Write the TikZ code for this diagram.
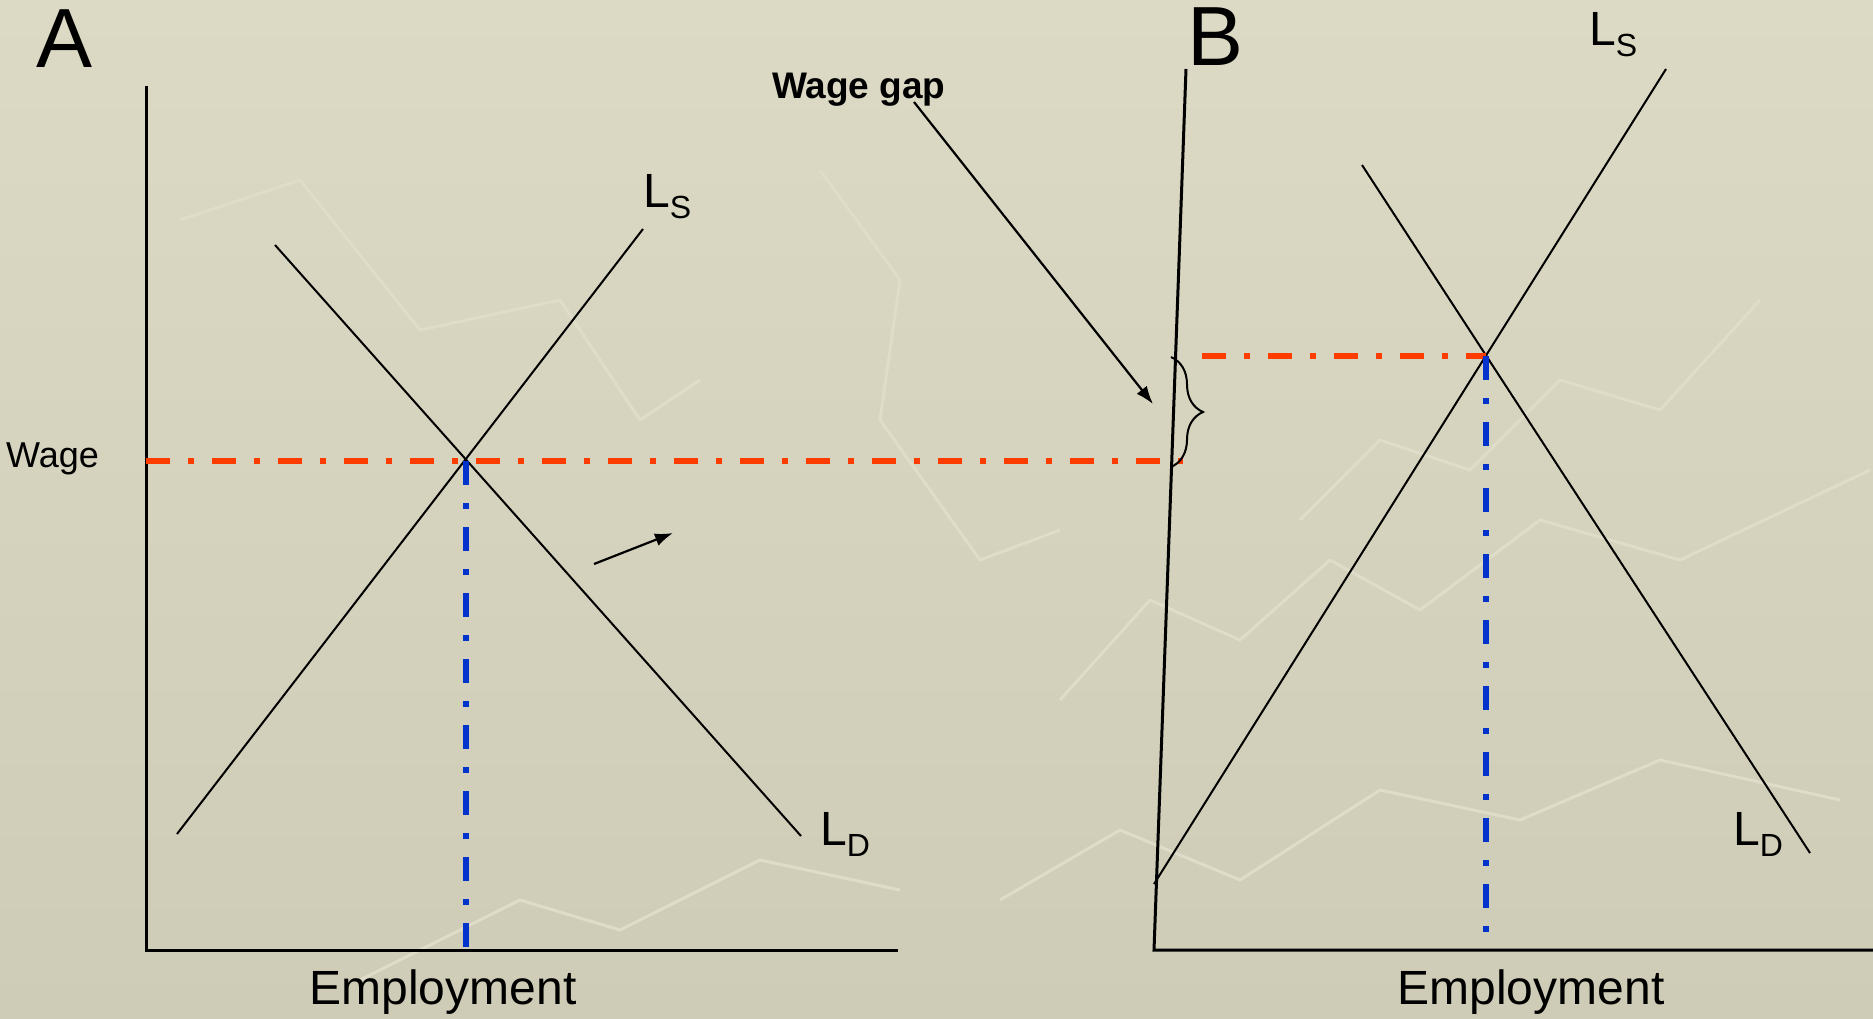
\documentclass[tikz,border=0pt]{standalone}
\usepackage{fontspec}
\setmainfont{Liberation Sans}
\usetikzlibrary{arrows.meta,decorations.pathreplacing}
\definecolor{bgtop}{RGB}{220,218,196}
\definecolor{bgbot}{RGB}{206,204,182}
\definecolor{redline}{RGB}{255,60,0}
\definecolor{blueline}{RGB}{0,51,204}
\definecolor{mapline}{RGB}{223,221,201}
\begin{document}
\begin{tikzpicture}[x=1pt,y=-1pt,
  axisline/.style={line width=3pt,black},
  curveline/.style={line width=2pt,black},
  dashdot/.style={line width=6pt,dash pattern=on 24pt off 18pt on 6pt off 18pt},
  lbl/.style={inner sep=0pt,anchor=base west,text=black},
  arr/.style={line width=2.2pt,-{Latex[length=18pt,width=13pt]}},
  mapl/.style={line width=3pt,mapline,line join=round}]
% background
\shade[top color=bgtop,bottom color=bgbot] (0,0) rectangle (1873,1018);
\useasboundingbox (0,0) rectangle (1873,1018);
% faint map texture
\draw[mapl] (180,220) -- (300,180) -- (420,330) -- (560,300) -- (640,420) -- (700,380);
\draw[mapl] (820,170) -- (900,280) -- (880,420) -- (980,560) -- (1060,530);
\draw[mapl] (1300,520) -- (1380,440) -- (1470,470) -- (1560,380) -- (1660,410) -- (1760,300);
\draw[mapl] (360,980) -- (520,900) -- (620,930) -- (760,860) -- (900,890);
\draw[mapl] (1060,700) -- (1150,600) -- (1240,640) -- (1330,560) -- (1420,610) -- (1540,520) -- (1680,560) -- (1870,470);
\draw[mapl] (1000,900) -- (1120,830) -- (1240,880) -- (1380,790) -- (1520,820) -- (1660,760) -- (1840,800);
% coordinates
\coordinate (ayTop) at (146,86);
\coordinate (aO) at (146,950);
\coordinate (axEnd) at (898,950);
\coordinate (lsA1) at (177,834);
\coordinate (lsA2) at (643,229);
\coordinate (ldA1) at (275,245);
\coordinate (ldA2) at (801,836);
\coordinate (eqA) at (466,461);
\coordinate (wA) at (146,461);
\coordinate (wAend) at (1183,461);
\coordinate (eqAbase) at (466,950);
\coordinate (byTop) at (1186,69);
\coordinate (bO) at (1154,950);
\coordinate (bxEnd) at (1873,950);
\coordinate (lsB1) at (1154,884);
\coordinate (lsB2) at (1666,69);
\coordinate (ldB1) at (1362,165);
\coordinate (ldB2) at (1810,853);
\coordinate (eqB) at (1486,356);
\coordinate (wB) at (1202,356);
\coordinate (eqBbase) at (1486,932);
\coordinate (brTop) at (1171,357);
\coordinate (brBot) at (1171,467);
\coordinate (sa1) at (594,564);
\coordinate (sa2) at (673,533);
\coordinate (wg2) at (1153,404);
% axes
\draw[axisline] (ayTop) -- (aO) -- (axEnd);
\draw[axisline] (byTop) -- (bO) -- (bxEnd);
% curves
\draw[curveline] (lsA1) -- (lsA2);
\draw[curveline] (ldA1) -- (ldA2);
\draw[curveline] (lsB1) -- (lsB2);
\draw[curveline] (ldB1) -- (ldB2);
% dash-dot guides
\draw[dashdot,redline] (wA) -- (wAend);
\draw[dashdot,blueline] (eqA) -- (eqAbase);
\draw[dashdot,redline] (wB) -- (eqB);
\draw[dashdot,blueline] (eqB) -- (eqBbase);
% brace
\draw[line width=2pt,decorate,decoration={brace,amplitude=32pt}] (brTop) -- (brBot);
% labels
\node[lbl,font=\fontsize{84}{84}\selectfont] (labA) at (36,67) {A};
\node[lbl,font=\fontsize{84}{84}\selectfont] (labB) at (1187,65) {B};
\node[lbl,font=\fontsize{36}{36}\selectfont] (wage) at (6,467) {Wage};
\node[lbl,font=\bfseries\fontsize{37}{37}\selectfont] (wgap) at (772,98) {Wage gap};
\node[lbl] (lsA) at (643,207) {\fontsize{48}{48}\selectfont L\raisebox{-11pt}{\fontsize{32}{32}\selectfont S}};
\node[lbl] (ldA) at (820,845) {\fontsize{48}{48}\selectfont L\raisebox{-11pt}{\fontsize{32}{32}\selectfont D}};
\node[lbl] (lsB) at (1589,45) {\fontsize{48}{48}\selectfont L\raisebox{-11pt}{\fontsize{32}{32}\selectfont S}};
\node[lbl] (ldB) at (1733,845) {\fontsize{48}{48}\selectfont L\raisebox{-11pt}{\fontsize{32}{32}\selectfont D}};
\node[inner sep=0pt,anchor=base,font=\fontsize{48}{48}\selectfont] (empA) at (443,1004) {Employment};
\node[inner sep=0pt,anchor=base,font=\fontsize{48}{48}\selectfont] (empB) at (1531,1004) {Employment};
% arrows
\coordinate (wg1) at (914,102);
\draw[arr] (wg1) -- (wg2);
\draw[arr] (sa1) -- (sa2);
\end{tikzpicture}
\end{document}
